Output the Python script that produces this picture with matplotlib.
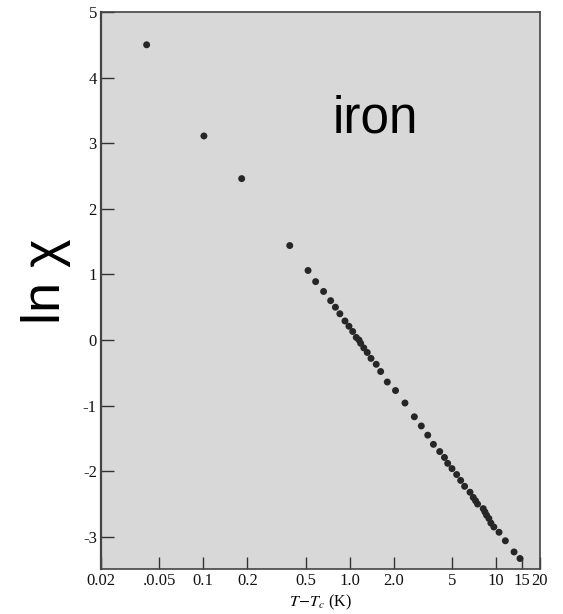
import matplotlib
matplotlib.use("Agg")
import matplotlib.pyplot as plt
import numpy as np

# T - Tc (K) and ln chi
t_minus_tc = [0.041, 0.101, 0.183, 0.39, 0.52, 0.586, 0.664, 0.742, 0.80, 0.858,
              0.93, 0.99, 1.05, 1.11, 1.16, 1.19, 1.25, 1.32, 1.40, 1.52,
              1.63, 1.81, 2.06, 2.39, 2.77, 3.09, 3.42, 3.74, 4.13, 4.45,
              4.68, 5.01, 5.39, 5.74, 6.11, 6.65, 7.0, 7.26, 7.49, 8.19,
              8.41, 8.63, 8.95, 9.24, 9.68, 10.5, 11.6, 13.3, 14.6]
ln_chi = [4.50, 3.11, 2.46, 1.44, 1.06, 0.89, 0.74, 0.60, 0.50, 0.40,
          0.29, 0.21, 0.13, 0.04, 0.00, -0.05, -0.12, -0.19, -0.28, -0.37,
          -0.48, -0.64, -0.77, -0.96, -1.17, -1.31, -1.45, -1.59, -1.70, -1.79,
          -1.88, -1.96, -2.05, -2.14, -2.23, -2.32, -2.40, -2.45, -2.50, -2.57,
          -2.62, -2.67, -2.72, -2.79, -2.85, -2.93, -3.06, -3.23, -3.33]

x_ticks = [0.02, 0.05, 0.1, 0.2, 0.5, 1.0, 2.0, 5, 10, 15, 20]
x_tick_labels = ["0.02", ".0.05", "0.1", "0.2", "0.5", "1.0", "2.0", "5", "10", "15", "20"]
y_ticks = [-3, -2, -1, 0, 1, 2, 3, 4, 5]

plt.rcParams["mathtext.fontset"] = "stix"
plt.rcParams["axes.unicode_minus"] = False

fig = plt.figure(figsize=(5.63, 6.14), dpi=100)
ax = fig.add_axes([0.1794, 0.0733, 0.7797, 0.9072])
ax.set_facecolor("#d8d8d8")

ax.scatter(t_minus_tc, ln_chi, s=25, color="#262626", edgecolors="none", zorder=3)

ax.set_xscale("log")
ax.set_xlim(0.02, 20)
ax.set_ylim(-3.49, 5.0)
ax.set_xticks(x_ticks)
ax.set_xticklabels(x_tick_labels)
ax.minorticks_off()
ax.set_yticks(y_ticks)

for lab in ax.get_xticklabels() + ax.get_yticklabels():
    lab.set_family("Liberation Serif")
    lab.set_fontsize(12)
    lab.set_color("#111111")

ax.tick_params(axis="both", direction="in", length=9, width=1.0, color="#333333", pad=3)
for sp in ax.spines.values():
    sp.set_color("#444444")
    sp.set_linewidth(1.2)
ax.spines["left"].set_linewidth(1.6)

# x label placed by hand so the subscript stays inside the figure
fig.text(0.569, 0.012, r"$T\!-\!T_c$ (K)", fontsize=11.5, family="Liberation Serif",
         ha="center", va="baseline")

fig.text(0.5915, 0.785, "iron", fontsize=37, family="Liberation Sans",
         ha="left", va="baseline")
fig.text(46 / 563, 0.542, "ln χ", fontsize=39, family="Liberation Sans",
         rotation=90, ha="center", va="center")

fig.savefig("out.png", dpi=100)
